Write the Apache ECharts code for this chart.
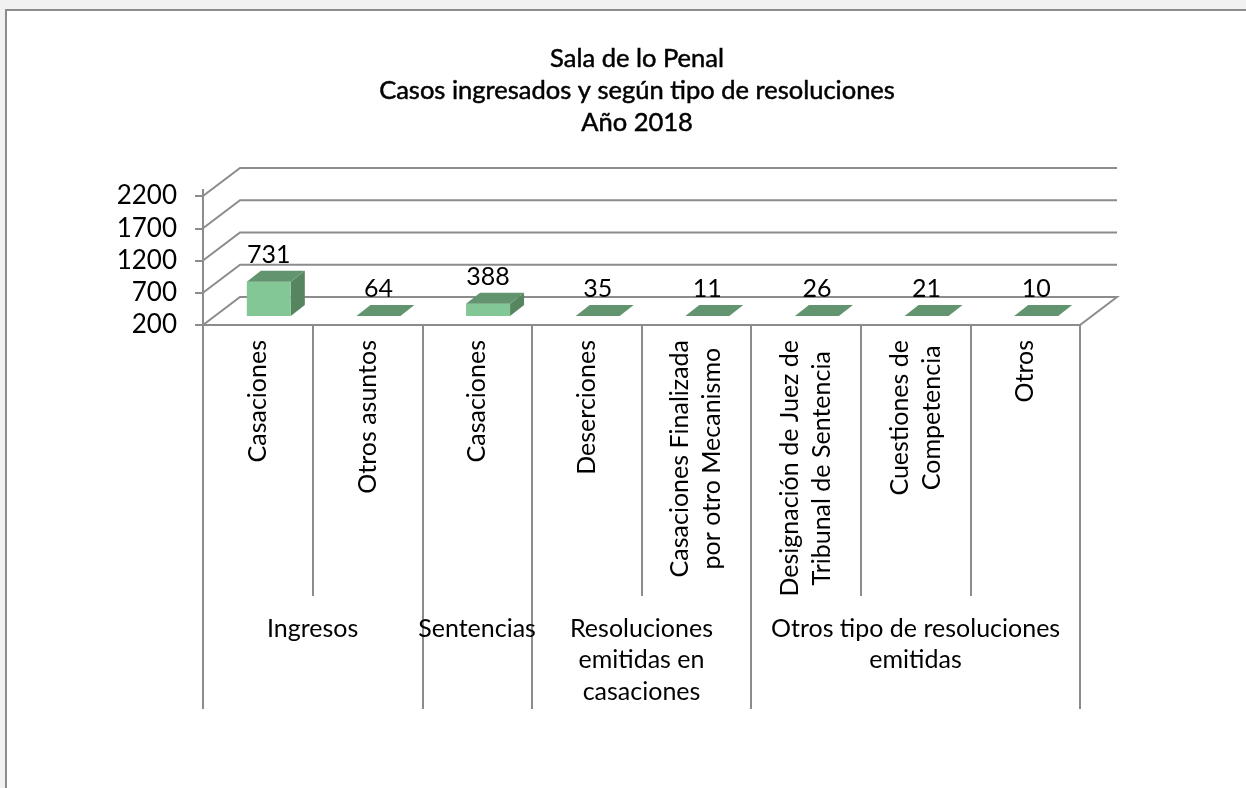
<!DOCTYPE html>
<html>
<head>
<meta charset="utf-8">
<style>
  html, body { margin: 0; height: 100%; background: #f1f1f1; overflow: hidden; }
  #page { position: absolute; left: 5px; top: 9px; right: 0; bottom: 0; background: #fff;
          border-left: 2px solid #8c8c8c; border-top: 2px solid #8c8c8c; }
  #main { position: absolute; left: 0; top: 0; width: 1246px; height: 788px; }
</style>
<script src="https://cdn.jsdelivr.net/npm/echarts@6/dist/echarts.min.js"></script>
</head>
<body>
<div id="page"></div>
<div id="main"></div>
<script>
var titleText = "Sala de lo Penal\nCasos ingresados y según tipo de resoluciones\nAño 2018";
var categories = ["Casaciones", "Otros asuntos", "Casaciones", "Deserciones",
  "Casaciones Finalizada\npor otro Mecanismo", "Designación de Juez de\nTribunal de Sentencia",
  "Cuestiones de\nCompetencia", "Otros"];
var values = [731, 64, 388, 35, 11, 26, 21, 10];
var yTicks = [200, 700, 1200, 1700, 2200];
var groupLabels = ["Ingresos", "Sentencias", "Resoluciones\nemitidas en\ncasaciones", "Otros tipo de resoluciones\nemitidas"];
var groupCenters = [1, 2.5, 4, 6.5];
var groupEdges = [0, 2, 3, 5, 8];

var fontName = "Lato";
var lineColor = "#8c8c8c";

// profundidad del "3D"
var wallDx = 37, wallDy = 28;
var barInX = 11, barInY = 9, barDx = 14, barDy = 11, barW = 44;

function renderWall(params, api) {
  var cs = params.coordSys;
  var v = api.value(1);
  var y = api.coord([0, v])[1];
  var x0 = cs.x, x1 = cs.x + cs.width;
  var points = [[x0, y], [x0 + wallDx, y - wallDy], [x1 + wallDx, y - wallDy]];
  if (v === yTicks[0]) {
    points.push([x1, y], [x0, y]);
  }
  if (v === yTicks[yTicks.length - 1]) {
    points.unshift([x0, y - 7], [x0, y]);
  }
  return {
    type: "polyline",
    shape: { points: points },
    style: { stroke: lineColor, lineWidth: 2, fill: null }
  };
}

function renderBar(params, api) {
  var i = api.value(0), v = api.value(1);
  // los valores por debajo del minimo quedan planos sobre el piso
  var top = api.coord([i, Math.max(v, yTicks[0])]);
  var base = api.coord([i, yTicks[0]]);
  var xl = top[0] - barW / 2 + barInX, xr = xl + barW;
  var yt = top[1] - barInY, yb = base[1] - barInY;
  return {
    type: "group",
    children: [
      { type: "polygon", shape: { points: [[xr, yt], [xr + barDx, yt - barDy], [xr + barDx, yb - barDy], [xr, yb]] },
        style: { fill: "#578560" } },
      { type: "rect", shape: { x: xl, y: yt, width: barW, height: yb - yt },
        style: { fill: "#82c795" } },
      { type: "polygon", shape: { points: [[xl, yt], [xl + barDx, yt - barDy], [xr + barDx, yt - barDy], [xr, yt]] },
        style: { fill: "#62956f" } },
      { type: "text", x: xl + barW / 2, y: yt - barDy - 16,
        style: { text: String(v), font: "25px " + fontName, fill: "#000", align: "center", verticalAlign: "middle" } }
    ]
  };
}

var myChart = echarts.init(document.getElementById("main"), null, { renderer: "canvas" });
myChart.setOption({
  animation: false,
  backgroundColor: "transparent",
  title: {
    text: titleText,
    left: 632,
    top: 38,
    textAlign: "center",
    textStyle: { fontFamily: fontName, fontSize: 25.5, fontWeight: "normal", color: "#000", lineHeight: 32,
                 textBorderColor: "#000", textBorderWidth: 0.5 }
  },
  grid: { left: 203, top: 196, width: 877, height: 129 },
  xAxis: [
    {
      type: "category",
      data: categories,
      position: "bottom",
      axisLine: { show: false },
      axisTick: { show: true, alignWithLabel: false, length: 271, lineStyle: { color: lineColor, width: 2 } },
      axisLabel: {
        interval: 0, rotate: 90, margin: 15, fontFamily: fontName, fontSize: 25, color: "#000",
        lineHeight: 32, hideOverlap: false,
        // cada linea centrada dentro del bloque
        formatter: function (val) {
          return val.split("\n").map(function (s) { return "{c|" + s + "}"; }).join("\n");
        },
        rich: { c: { align: "center", fontFamily: fontName, fontSize: 25, lineHeight: 32, color: "#000" } }
      }
    },
    {
      type: "value",
      position: "bottom",
      min: 0,
      max: categories.length,
      splitLine: { show: false },
      axisLine: { show: false },
      axisTick: { show: true, customValues: groupEdges, length: 384, lineStyle: { color: lineColor, width: 2 } },
      axisLabel: {
        customValues: groupCenters, margin: 288, fontFamily: fontName, fontSize: 25, color: "#000",
        lineHeight: 31.5, verticalAlign: "top",
        formatter: function (val) { return groupLabels[groupCenters.indexOf(val)]; }
      }
    }
  ],
  yAxis: {
    type: "value",
    min: yTicks[0],
    max: yTicks[yTicks.length - 1],
    splitLine: { show: false },
    axisLine: { show: true, lineStyle: { color: lineColor, width: 2 } },
    axisTick: { show: true, customValues: yTicks, length: 8, lineStyle: { color: lineColor, width: 2 } },
    axisLabel: {
      customValues: yTicks, margin: 26, fontFamily: fontName, fontSize: 26, color: "#000",
      padding: [4, 0, 0, 0],
      formatter: function (val) { return String(val); }
    }
  },
  series: [
    {
      type: "custom",
      name: "wall",
      xAxisIndex: 0,
      renderItem: renderWall,
      encode: { x: 0, y: 1 },
      data: yTicks.map(function (v) { return [0, v]; }),
      z: 1,
      silent: true
    },
    {
      type: "custom",
      name: "casos",
      xAxisIndex: 0,
      renderItem: renderBar,
      encode: { x: 0, y: 1 },
      data: values.map(function (v, i) { return [i, v]; }),
      z: 2
    }
  ]
});
</script>
</body>
</html>
